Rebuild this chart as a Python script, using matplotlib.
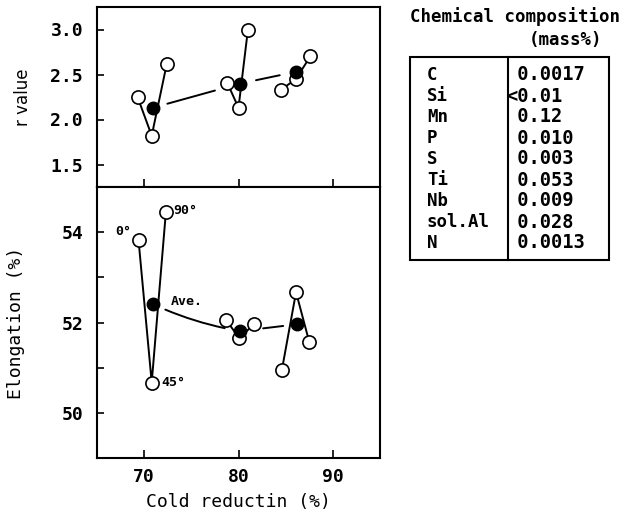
import numpy as np
import matplotlib
matplotlib.use("Agg")
import matplotlib.pyplot as plt
from matplotlib.patches import Rectangle

# r value panel (x = cold reduction %, one group per reduction)
r_x0 = [69.3, 78.8, 84.5]
r_x45 = [70.8, 80.0, 86.1]
r_x90 = [72.4, 81.0, 87.6]
r_xave = [70.9, 80.2, 86.1]
r_0 = [2.25, 2.41, 2.33]
r_45 = [1.82, 2.13, 2.45]
r_90 = [2.62, 3.00, 2.70]
r_ave = [2.13, 2.40, 2.53]

# elongation panel
el_x0 = [69.4, 78.7, 84.6]
el_x45 = [70.8, 80.1, 86.1]
el_x90 = [72.3, 81.6, 87.5]
el_xave = [70.9, 80.2, 86.2]
el_0 = [53.83, 52.05, 50.95]
el_45 = [50.67, 51.65, 52.67]
el_90 = [54.44, 51.96, 51.57]
el_ave = [52.41, 51.81, 51.96]

elements = ["C", "Si", "Mn", "P", "S", "Ti", "Nb", "sol.Al", "N"]
contents = ["0.0017", "<0.01", "0.12", "0.010", "0.003", "0.053", "0.009", "0.028", "0.0013"]

W, H = 626, 520
FONT = "DejaVu Sans Mono"
plt.rcParams['font.family'] = FONT
plt.rcParams['font.weight'] = 'bold'

fig = plt.figure(figsize=(W / 100, H / 100), dpi=100)

def px(l, t, r, b):
    return [l / W, 1 - b / H, (r - l) / W, (b - t) / H]

ax1 = fig.add_axes(px(97, 7, 380, 187))
ax2 = fig.add_axes(px(97, 187, 380, 458))

# average-line connectors: (gap at start, gap at end, curvature)
r_links = [(11, 19, 0.0), (11.5, 12, 0.0)]
el_links = [(10, 11.5, 0.07), (16.5, 10, 0.0)]


def draw_panel(ax, x0, x45, x90, xave, y0, y45, y90, yave, links):
    for i in range(len(x0)):
        ax.plot([x0[i], x45[i], x90[i]], [y0[i], y45[i], y90[i]], '-',
                color='black', lw=1.4, zorder=2)
        ax.plot([x0[i], x45[i], x90[i]], [y0[i], y45[i], y90[i]], 'o',
                ms=9.5, mfc='white', mec='black', mew=1.2, zorder=3)
    for i in range(len(xave) - 1):
        sa, sb, rad = links[i]
        ax.annotate("", xy=(xave[i + 1], yave[i + 1]), xytext=(xave[i], yave[i]),
                    arrowprops=dict(arrowstyle='-', color='black', lw=1.4,
                                    shrinkA=sa, shrinkB=sb,
                                    connectionstyle="arc3,rad=%s" % rad),
                    zorder=2)
    ax.plot(xave, yave, 'o', ms=9, mfc='black', mec='black', zorder=4)
    ax.set_xlim(65, 95)
    ax.set_xticks([70, 80, 90])
    ax.tick_params(direction='in', length=5, width=1.2, labelsize=13, pad=10)
    ax.tick_params(axis='x', length=6, pad=7)
    for s in ax.spines.values():
        s.set_linewidth(1.5)


draw_panel(ax1, r_x0, r_x45, r_x90, r_xave, r_0, r_45, r_90, r_ave, r_links)
draw_panel(ax2, el_x0, el_x45, el_x90, el_xave, el_0, el_45, el_90, el_ave, el_links)

ax1.set_ylim(1.25, 3.25)
ax1.set_yticks([1.5, 2.0, 2.5, 3.0])
ax1.set_yticklabels(["1.5", "2.0", "2.5", "3.0"])
ax1.tick_params(axis='x', labelbottom=False)
ax1.set_ylabel("r value", fontsize=12, fontweight='normal', family='DejaVu Sans')
ax1.yaxis.set_label_coords(-0.23, 0.5)

ax2.set_ylim(49, 55)
ax2.set_yticks([50, 51, 52, 53, 54])
ax2.set_yticklabels(["50", "", "52", "", "54"])
ax2.set_ylabel("Elongation (%)", fontsize=13)
ax2.yaxis.set_label_coords(-0.255, 0.5)
ax2.set_xlabel("Cold reductin (%)", fontsize=13)
ax2.xaxis.set_label_coords(0.5, -0.13)

# direction labels
lab = dict(fontsize=9.5, fontweight='bold', textcoords='offset points')
ax2.annotate("0°", (el_x0[0], el_0[0]), xytext=(-5, 6), ha='right', va='center', **lab)
ax2.annotate("45°", (el_x45[0], el_45[0]), xytext=(7, 0), ha='left', va='center', **lab)
ax2.annotate("90°", (el_x90[0], el_90[0]), xytext=(5, 1), ha='left', va='center', **lab)
ax2.annotate("Ave.", (el_xave[0], el_ave[0]), xytext=(13, 2), ha='left', va='center', **lab)

# chemical composition table
fig.text(515 / W, 1 - 17 / H, "Chemical composition", ha='center', va='center', fontsize=12.5)
fig.text(565 / W, 1 - 40 / H, "(mass%)", ha='center', va='center', fontsize=12.5)
fig.add_artist(Rectangle((410 / W, 1 - 260 / H), 199 / W, 203 / H, transform=fig.transFigure,
                         fill=False, lw=1.5, ec='black'))
fig.add_artist(plt.Line2D([508 / W, 508 / W], [1 - 260 / H, 1 - 57 / H], transform=fig.transFigure,
                          color='black', lw=1.5))
for i, (el, v) in enumerate(zip(elements, contents)):
    y = 1 - (75 + i * 21) / H
    fig.text(427 / W, y, el, ha='left', va='center', fontsize=12.5)
    s = v if v.startswith("<") else " " + v
    fig.text(506 / W, y, s, ha='left', va='center', fontsize=13.5)

fig.savefig("out.png", dpi=100)
